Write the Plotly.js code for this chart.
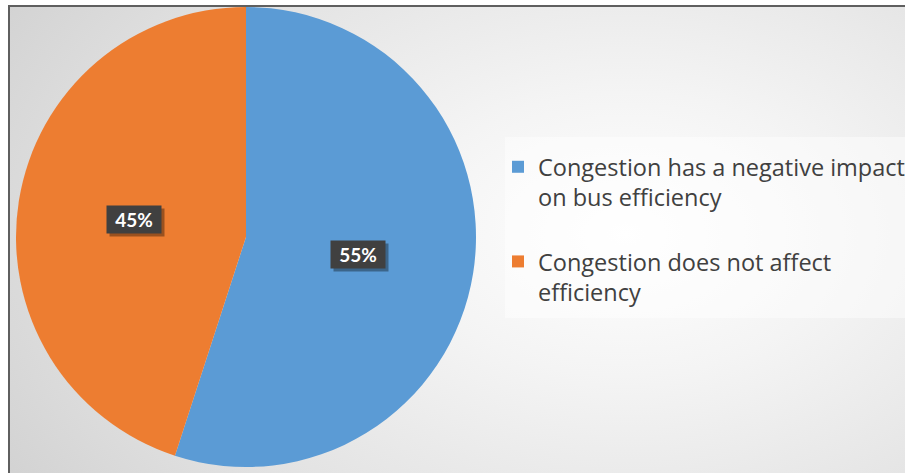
<!DOCTYPE html>
<html>
<head>
<meta charset="utf-8">
<script src="https://cdn.plot.ly/plotly-3.0.1.min.js"></script>
<style>
  html, body { margin: 0; padding: 0; width: 905px; height: 473px; overflow: hidden; background: #ffffff; }
  #frame {
    position: absolute; left: 8px; top: 5px; width: 905px; height: 473px;
    border-top: 2px solid #5f5f5f; border-left: 2px solid #5f5f5f;
    background: radial-gradient(ellipse 80% 100% at 68% 48%, #ffffff 0%, #f4f4f4 30%, #e2e2e2 70%, #d2d2d2 100%);
  }
  #chart { position: absolute; left: 0; top: 0; width: 905px; height: 473px; }
</style>
</head>
<body>
<div id="frame"></div>
<div id="chart"></div>
<script>
// ---- data ----
const categories = [
  "Congestion has a negative impact on bus efficiency",
  "Congestion does not affect efficiency"
];
const legendLabels = [
  "Congestion has a negative impact<br>on bus efficiency<br> ",
  "Congestion does not affect<br>efficiency"
];
const values = [55, 45];
const sliceColors = ["#5b9bd5", "#ed7d31"];

// ---- layout constants ----
const W = 905, H = 473;
const pieCx = 246, pieCy = 237, pieR = 230;
const labelRadiusFrac = 0.495;

const domX = [(pieCx - pieR) / W, (pieCx + pieR) / W];
const domY = [1 - (pieCy + pieR) / H, 1 - (pieCy - pieR) / H];

const trace = {
  type: "pie",
  labels: legendLabels,
  values: values,
  sort: false,
  direction: "clockwise",
  rotation: 0,
  marker: { colors: sliceColors, line: { width: 0 } },
  textinfo: "none",
  hoverinfo: "skip",
  domain: { x: domX, y: domY }
};

// data labels placed at mid-angle of each slice
const total = values.reduce((a, b) => a + b, 0);
const annotations = [];
let cum = 0;
const labelPos = values.map(v => {
  const mid = (cum + v / 2) / total * 2 * Math.PI;
  cum += v;
  const px = pieCx + pieR * labelRadiusFrac * Math.sin(mid);
  const py = pieCy - pieR * labelRadiusFrac * Math.cos(mid);
  return { x: px / W, y: 1 - py / H, text: Math.round(v / total * 100) + "%" };
});
labelPos.forEach(p => {
  annotations.push({
    xref: "paper", yref: "paper", x: p.x, y: p.y, showarrow: false,
    xanchor: "center", yanchor: "middle",
    text: " ", xshift: 3, yshift: -3,
    font: { family: "Lato, sans-serif", size: 18, color: "rgba(0,0,0,0)" },
    bgcolor: "rgba(0,0,0,0.35)", width: 46, height: 19, borderpad: 4
  });
});
labelPos.forEach(p => {
  annotations.push({
    xref: "paper", yref: "paper", x: p.x, y: p.y, showarrow: false,
    xanchor: "center", yanchor: "middle",
    text: "<b>" + p.text + "</b>",
    font: { family: "Lato, sans-serif", size: 19, color: "#ffffff" },
    bgcolor: "#404040", width: 46, height: 19, borderpad: 4
  });
});

const layout = {
  width: W, height: H,
  margin: { l: 0, r: 0, t: 0, b: 0, autoexpand: false },
  paper_bgcolor: "rgba(0,0,0,0)",
  plot_bgcolor: "rgba(0,0,0,0)",
  showlegend: true,
  legend: {
    x: 498 / W, y: 1 - 145 / H, xanchor: "left", yanchor: "top",
    bgcolor: "rgba(0,0,0,0)",
    font: { family: "Open Sans, sans-serif", size: 23.5, color: "#404040" },
    valign: "top",
    itemclick: false, itemdoubleclick: false
  },
  shapes: [{
    type: "rect", xref: "paper", yref: "paper", layer: "below",
    x0: 505 / W, x1: 1.02, y0: 1 - 318 / H, y1: 1 - 137 / H,
    fillcolor: "rgba(255,255,255,0.45)", line: { width: 0 }
  }],
  annotations: annotations
};

Plotly.newPlot("chart", [trace], layout, { displayModeBar: false, staticPlot: true });
</script>
</body>
</html>
